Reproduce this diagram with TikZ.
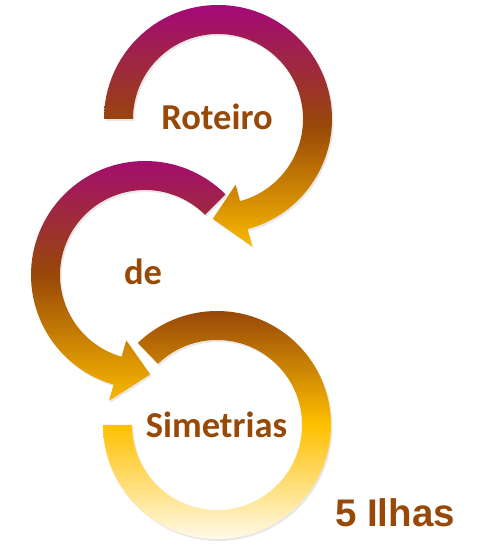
\documentclass[tikz,border=0pt]{standalone}
\usepackage{fontspec}
\setmainfont{Carlito}
\newfontfamily\arialfont{Liberation Sans}
\usetikzlibrary{calc,shadows}
\definecolor{mag}{RGB}{165,8,120}
\definecolor{brn}{RGB}{152,72,7}
\definecolor{gld}{RGB}{250,185,0}
\definecolor{gldb}{RGB}{255,192,0}
\definecolor{crm}{RGB}{255,250,232}
\definecolor{txt}{RGB}{152,72,7}
\tikzset{
  arrowshape/.style={draw=none, drop shadow={shadow xshift=1.5pt, shadow yshift=-2pt, opacity=0.18}},
  lbl/.style={text=txt, font=\bfseries\fontsize{36.5}{40}\selectfont, anchor=base, inner sep=0pt}
}
\begin{document}
\begin{tikzpicture}[x=1pt,y=1pt]
\path[use as bounding box] (0,0) rectangle (482,545);
\coordinate (C1) at (218,426);
\coordinate (C2) at (145,270);
\coordinate (C3) at (217,120);
% arrow 3 (ring, Simetrias)
\path[arrowshape, top color=brn, bottom color=crm, middle color=gldb]
  ($(C3)+(180:114)$) arc[start angle=180, end angle=494, radius=114]
  -- ($(C3)+(494:85)$) arc[start angle=494, end angle=180, radius=85] -- cycle;
% arrow 2 (de)
\path[arrowshape, top color=mag, bottom color=gld, middle color=brn]
  ($(C2)+(45:114)$) arc[start angle=45, end angle=254, radius=114]
  -- ($(C2)+(254:131)$) -- ($(C2)+(273:99.5)$) -- ($(C2)+(254:68)$)
  -- ($(C2)+(254:85)$) arc[start angle=254, end angle=45, radius=85] -- cycle;
% arrow 1 (Roteiro)
\path[arrowshape, top color=mag, bottom color=gld, middle color=brn]
  ($(C1)+(180:114)$) arc[start angle=180, end angle=-75, radius=114]
  -- ($(C1)+(-75:132)$) -- ($(C1)+(-93:100)$) -- ($(C1)+(-75:68)$)
  -- ($(C1)+(-75:85)$) arc[start angle=-75, end angle=180, radius=85] -- cycle;
\node[lbl] (t1) at (217,415) {Roteiro};
\node[lbl] (t2) at (143,260) {de};
\node[lbl] (t3) at (216.5,107) {Simetrias};
\node[text=txt, font=\arialfont\bfseries\fontsize{38.5}{42}\selectfont, anchor=base, inner sep=0pt] (t4) at (395,18) {5 Ilhas};
\end{tikzpicture}
\end{document}
